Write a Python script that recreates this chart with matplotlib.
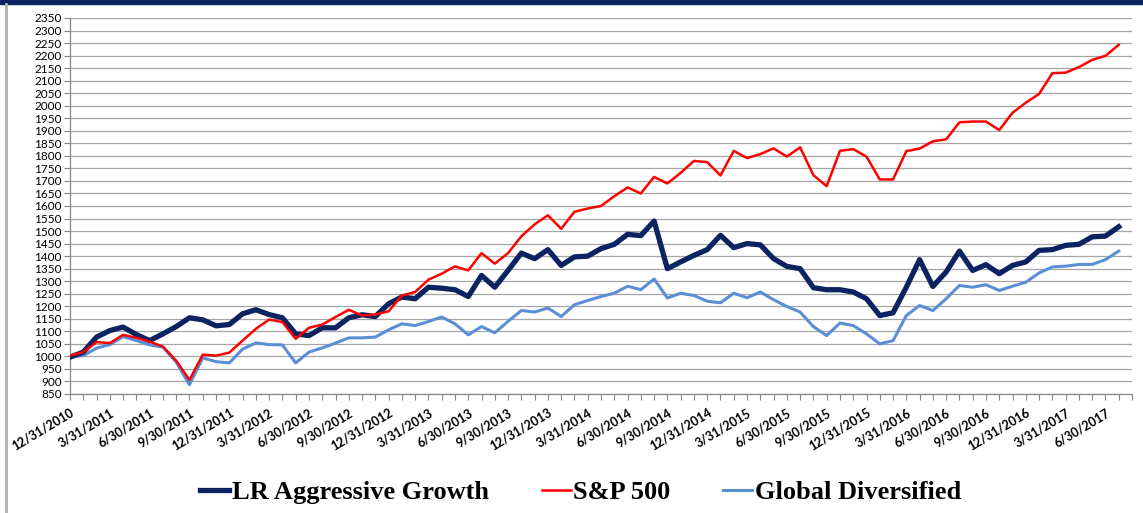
import matplotlib
matplotlib.use('Agg')
import matplotlib.pyplot as plt
import pandas as pd
import numpy as np

# month-end dates, 12/31/2010 .. 7/31/2017
dates = pd.date_range('2010-12-31', periods=80, freq='ME')
labels = [f'{d.month}/{d.day}/{d.year}' for d in dates]

lr_growth = [997, 1017, 1077, 1103, 1117, 1087, 1063, 1090, 1119, 1154,
             1146, 1122, 1127, 1170, 1186, 1167, 1154, 1090, 1083, 1114,
             1114, 1154, 1166, 1159, 1210, 1237, 1230, 1276, 1272, 1266,
             1239, 1323, 1276, 1343, 1412, 1390, 1426, 1363, 1397, 1400,
             1430, 1447, 1487, 1482, 1540, 1350, 1377, 1403, 1426, 1483,
             1434, 1450, 1445, 1390, 1359, 1350, 1274, 1266, 1266, 1257,
             1230, 1163, 1174, 1276, 1386, 1279, 1337, 1420, 1343, 1366,
             1330, 1363, 1377, 1423, 1426, 1443, 1447, 1477, 1480, 1517]

sp500 = [1003, 1017, 1057, 1053, 1086, 1074, 1059, 1039, 983, 906,
         1007, 1003, 1015, 1063, 1110, 1147, 1137, 1070, 1114, 1127,
         1157, 1186, 1163, 1167, 1180, 1243, 1257, 1306, 1330, 1359,
         1343, 1412, 1370, 1412, 1479, 1527, 1563, 1509, 1577, 1590,
         1600, 1639, 1674, 1650, 1716, 1690, 1732, 1780, 1775, 1722,
         1820, 1791, 1807, 1830, 1797, 1834, 1723, 1679, 1820, 1827,
         1797, 1706, 1706, 1819, 1829, 1858, 1866, 1934, 1937, 1937,
         1903, 1972, 2012, 2047, 2130, 2132, 2154, 2183, 2199, 2243]

global_div = [999, 1003, 1033, 1047, 1079, 1063, 1046, 1037, 977, 887,
              994, 979, 974, 1029, 1054, 1047, 1046, 974, 1017, 1034,
              1053, 1074, 1074, 1077, 1106, 1130, 1123, 1139, 1157, 1130,
              1086, 1119, 1094, 1140, 1183, 1177, 1193, 1159, 1206, 1223,
              1239, 1252, 1280, 1266, 1309, 1233, 1252, 1243, 1220, 1214,
              1252, 1234, 1257, 1226, 1199, 1177, 1119, 1083, 1133, 1123,
              1090, 1050, 1063, 1163, 1203, 1183, 1230, 1283, 1276, 1286,
              1263, 1280, 1296, 1333, 1357, 1360, 1367, 1367, 1386, 1420]

fig = plt.figure(figsize=(11.43, 5.13), dpi=100)
ax = fig.add_axes([70/1143, 1-394/513, (1132-70)/1143, (394-18)/513])

x = np.arange(len(dates))
ax.plot(x, lr_growth, color='#0b2360', linewidth=3.8, label='LR Aggressive Growth', zorder=3)
ax.plot(x, sp500, color='#ff0000', linewidth=1.8, label='S&P 500', zorder=4)
ax.plot(x, global_div, color='#5a8fd6', linewidth=2.2, label='Global Diversified', zorder=2)

# axes
ax.set_xlim(0, 80)
ax.set_ylim(850, 2350)
ax.set_yticks(np.arange(850, 2351, 50))
ax.tick_params(axis='y', labelsize=8.5, length=4, color='#888888', pad=2)
for t in ax.get_yticklabels():
    t.set_family('Lato')
ax.grid(axis='y', color='#a6a6a6', linewidth=0.9)
ax.set_axisbelow(True)

ticklabels = [labels[i] if i % 3 == 0 else '' for i in range(80)] + ['']
ax.set_xticks(np.arange(81))
ax.set_xticklabels(ticklabels, rotation=31, ha='right', va='top',
                   rotation_mode='anchor', fontsize=9, fontweight='bold',
                   family='Lato')
ax.tick_params(axis='x', length=4, color='#888888', pad=5)

for s in ['top', 'right']:
    ax.spines[s].set_visible(False)
for s in ['left', 'bottom']:
    ax.spines[s].set_color('#888888')
    ax.spines[s].set_linewidth(0.9)

leg = fig.legend(loc='center', bbox_to_anchor=(0.508, 1-492/513), ncol=3, frameon=False,
                 handlelength=1.1, handletextpad=0.1, columnspacing=2.0,
                 prop={'family': 'Liberation Serif', 'weight': 'bold', 'size': 19})

# navy header strip and left frame line
fig.patches.append(plt.Rectangle((0, 1-4/513), 1, 4/513, transform=fig.transFigure,
                                 color='#0a2462', zorder=0))
fig.lines.append(plt.Line2D([6/1143, 6/1143], [0, 1-4/513], transform=fig.transFigure,
                            color='#b0b0b0', linewidth=2))

fig.savefig('out.png', dpi=100)
